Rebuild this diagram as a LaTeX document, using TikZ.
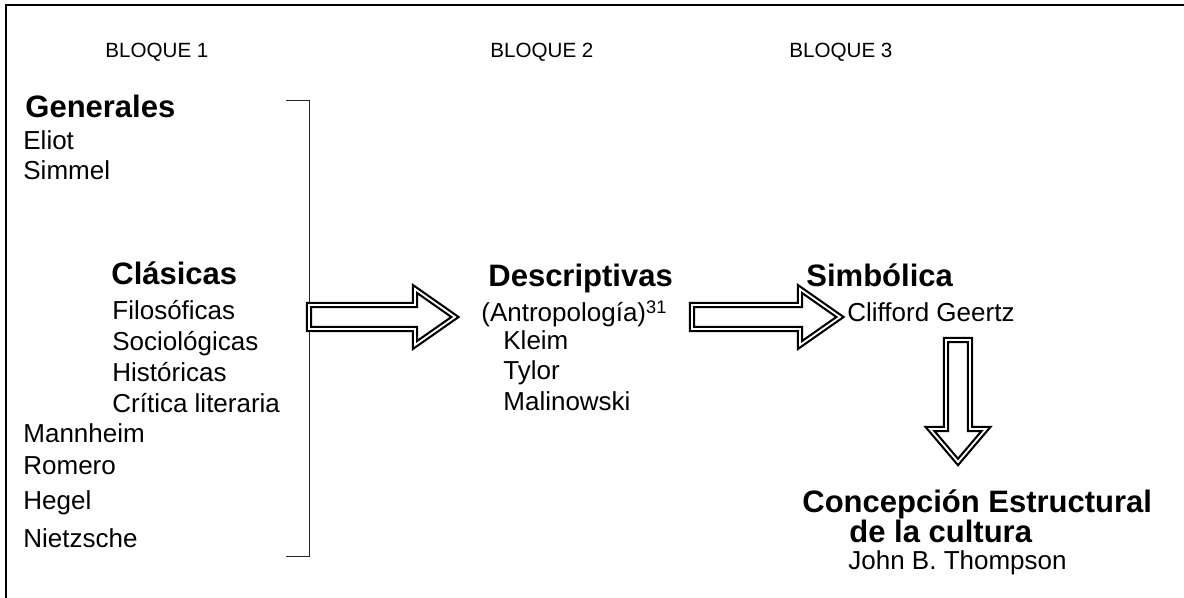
\documentclass[tikz,border=0pt]{standalone}
\usepackage{fontspec}
\setmainfont{Liberation Sans}
\usetikzlibrary{calc}
\tikzset{
	bloque/.style={anchor=base west, inner sep=0pt, font=\fontsize{10.3}{12}\selectfont},
	titulo/.style={anchor=base west, inner sep=0pt, font=\fontsize{15.5}{18}\selectfont\bfseries},
	autor/.style={anchor=base west, inner sep=0pt, font=\fontsize{13}{15}\selectfont},
	flecha/.style={draw, double, double distance=0.9pt, line width=1.1pt, line join=miter, fill=white}
}
% #1 tail, #2 length, #3 head length, #4 angle
\newcommand\flechagorda[4]{\draw[flecha, shift={(#1)}, rotate=#4] (0,-12) -- ({#2-#3},-12) -- ({#2-#3},-28) -- (#2,0) -- ({#2-#3},28) -- ({#2-#3},12) -- (0,12) -- cycle;}

\begin{document}
\begin{tikzpicture}[x=0.5pt, y=-0.5pt]
		%%%%% START %%%%%
		\useasboundingbox (0,0) rectangle (1184,598);
		\draw[line width=1pt] (6,598) -- (6,5) -- (1184,5);
		
		\node[bloque] (b1) at (105,58) {BLOQUE 1};
		\node[bloque] (b2) at (490,58) {BLOQUE 2};
		\node[bloque] (b3) at (789,58) {BLOQUE 3};
		
		% bloque 1
		\node[titulo] (generales) at (25,118) {Generales};
		\node[autor] (eliot) at (23,150) {Eliot};
		\node[autor] (simmel) at (23,180) {Simmel};
		\node[titulo] (clasicas) at (111,285) {Clásicas};
		\node[autor] (filosoficas) at (112,320) {Filosóficas};
		\node[autor] (sociologicas) at (112,351) {Sociológicas};
		\node[autor] (historicas) at (112,382) {Históricas};
		\node[autor] (critica) at (112,413) {Crítica literaria};
		\node[autor] (mannheim) at (23,443) {Mannheim};
		\node[autor] (romero) at (23,475) {Romero};
		\node[autor] (hegel) at (23,510) {Hegel};
		\node[autor] (nietzsche) at (23,547) {Nietzsche};
		\draw[line width=0.5pt, color=black!85] (286,101) -- (309,101) -- (309,557) -- (286,557);
		
		% bloque 2
		\node[titulo] (descriptivas) at (488,287) {Descriptivas};
		\node[autor] (antropologia) at (481,322) {(Antropología)\textsuperscript{31}};
		\node[autor] (kleim) at (503,350) {Kleim};
		\node[autor] (tylor) at (503,380) {Tylor};
		\node[autor] (malinowski) at (503,411) {Malinowski};
		
		% bloque 3
		\node[titulo] (simbolica) at (806,287) {Simbólica};
		\node[autor] (geertz) at (847,322) {Clifford Geertz};
		\node[titulo] (concepcion) at (802,513) {Concepción Estructural};
		\node[titulo] (cultura) at (849,543) {de la cultura};
		\node[autor] (thompson) at (848,570) {John B. Thompson};
		
		% flechas
		\coordinate (colaA) at (309,317);
		\coordinate (colaB) at (692,317);
		\coordinate (colaC) at (958,340);
		\flechagorda{colaA}{146}{40}{0}
		\flechagorda{colaB}{148}{40}{0}
		\flechagorda{colaC}{122}{33}{-90}
		%%%%% END %%%%%
\end{tikzpicture}
\end{document}
